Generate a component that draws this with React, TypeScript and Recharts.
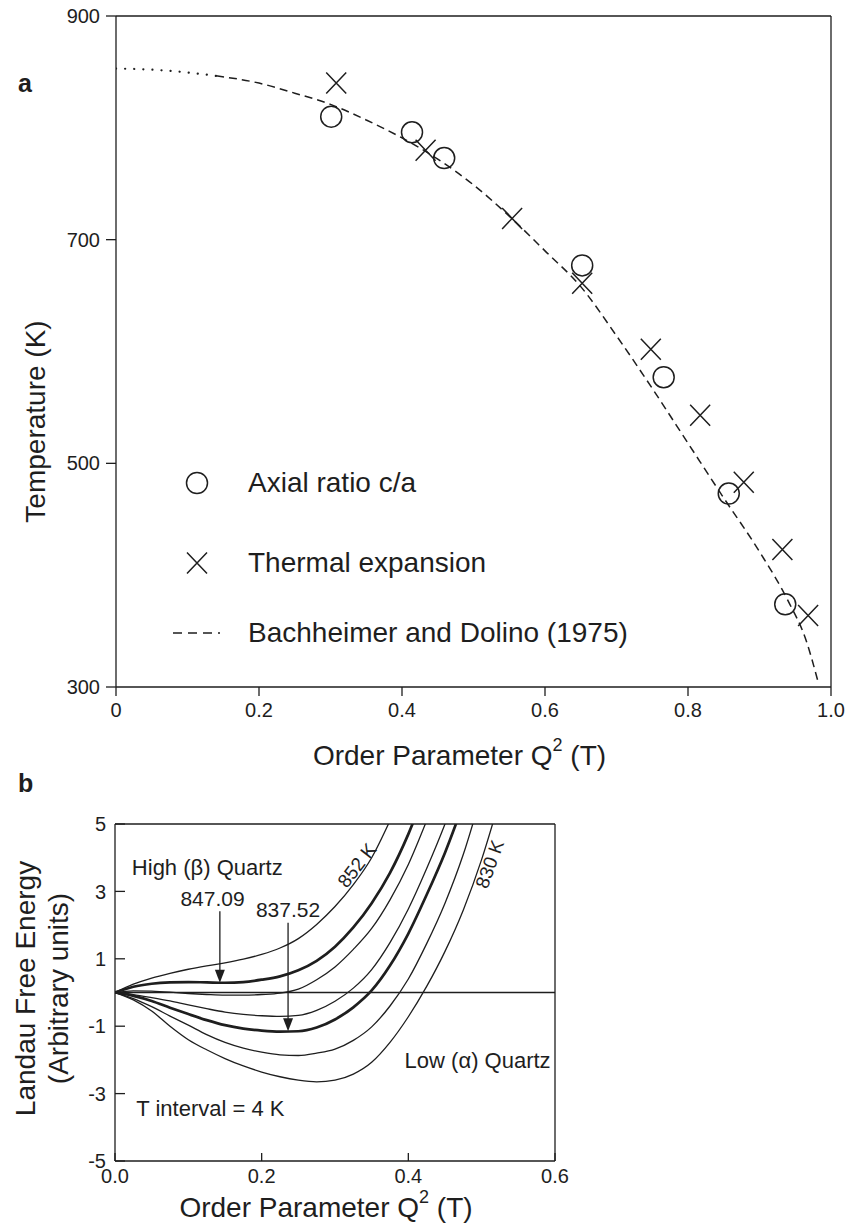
import React from 'react';
import {
  ComposedChart,
  Line,
  Scatter,
  XAxis,
  YAxis,
  Legend,
  ReferenceLine,
  ReferenceDot,
} from 'recharts';

const FONT = "'Liberation Sans', Arial, Helvetica, sans-serif";
const INK = '#1e1e1e';

// ---- panel a: temperature vs order parameter ----
const axialQ = [0.301, 0.414, 0.459, 0.652, 0.766, 0.857, 0.936];
const axialT = [810, 796, 773, 677, 577, 473, 374];

const thermalQ = [0.308, 0.433, 0.554, 0.652, 0.748, 0.817, 0.878, 0.932, 0.968];
const thermalT = [840, 780, 719, 661, 602, 543, 483, 423, 364];

// Bachheimer & Dolino (1975), dotted part = extrapolation
const bdDottedQ = [0, 0.05, 0.1, 0.14];
const bdDottedT = [853, 852, 849.5, 846.5];
const bdDashedQ = [0.14, 0.2, 0.25, 0.3, 0.35, 0.4, 0.45, 0.5, 0.55, 0.6, 0.65, 0.7, 0.75, 0.8, 0.85, 0.9, 0.94, 0.965, 0.983];
const bdDashedT = [846.5, 840, 831, 821, 807, 791, 772, 749, 721, 690, 658, 614, 567, 518, 469, 421, 377, 342, 302];

const xTicksA = [0, 0.2, 0.4, 0.6, 0.8, 1.0];
const yTicksA = [300, 500, 700, 900];

// ---- panel b: Landau free energy curves ----
const gridQ = [0, 0.025, 0.05, 0.075, 0.1, 0.125, 0.15, 0.175, 0.2, 0.225, 0.25, 0.275, 0.3, 0.325, 0.35, 0.375, 0.4, 0.425, 0.45, 0.475, 0.5, 0.525];

const f852 = [0, 0.25, 0.43, 0.57, 0.69, 0.79, 0.88, 0.99, 1.13, 1.32, 1.6, 2.02, 2.55, 3.2, 4.0, 5.1];
const f847 = [0, 0.17, 0.26, 0.3, 0.31, 0.3, 0.29, 0.31, 0.38, 0.48, 0.66, 0.94, 1.36, 1.93, 2.65, 3.55, 4.7, 6.1];
const f844 = [0, 0.05, 0.04, 0.01, -0.03, -0.06, -0.08, -0.08, -0.06, -0.02, 0.1, 0.38, 0.76, 1.28, 1.9, 2.75, 3.8, 5.1];
const f840 = [0, -0.06, -0.15, -0.25, -0.37, -0.48, -0.58, -0.65, -0.69, -0.71, -0.68, -0.53, -0.26, 0.13, 0.68, 1.48, 2.48, 3.68, 5.0, 6.5];
const f837 = [0, -0.1, -0.25, -0.45, -0.64, -0.82, -0.97, -1.07, -1.13, -1.16, -1.15, -1.04, -0.8, -0.44, 0.06, 0.8, 1.75, 2.9, 4.15, 5.6];
const f834 = [0, -0.18, -0.42, -0.7, -0.97, -1.25, -1.48, -1.65, -1.77, -1.85, -1.87, -1.8, -1.68, -1.42, -1.02, -0.4, 0.4, 1.45, 2.65, 4.1, 5.9];
const f830 = [0, -0.22, -0.55, -1.0, -1.4, -1.7, -1.96, -2.18, -2.36, -2.5, -2.6, -2.65, -2.6, -2.42, -2.07, -1.48, -0.72, 0.18, 1.22, 2.45, 3.95, 5.75];

const curvesB = [
  { key: '852', values: f852, thick: false },
  { key: '847.09', values: f847, thick: true },
  { key: '844', values: f844, thick: false },
  { key: '840', values: f840, thick: false },
  { key: '837.52', values: f837, thick: true },
  { key: '834', values: f834, thick: false },
  { key: '830', values: f830, thick: false },
];

const xTicksB = [0, 0.2, 0.4, 0.6];
const yTicksB = [5, 3, 1, -1, -3, -5];

const zip = (xs: number[], ys: number[], key: string) =>
  ys.map((y, i) => ({ q: xs[i], [key]: y }));

const axialData = zip(axialQ, axialT, 't');
const thermalData = zip(thermalQ, thermalT, 't');
const bdDotted = zip(bdDottedQ, bdDottedT, 't');
const bdDashed = zip(bdDashedQ, bdDashedT, 't');

const notesB = [
  { text: 'High (\u03b2) Quartz', q: 0.023, f: 3.7, anchor: 'start', size: 22, rotate: 0 },
  { text: '847.09', q: 0.133, f: 2.78, anchor: 'middle', size: 21, rotate: 0 },
  { text: '837.52', q: 0.236, f: 2.46, anchor: 'middle', size: 21, rotate: 0 },
  { text: '852 K', q: 0.33, f: 3.77, anchor: 'middle', size: 19, rotate: -52 },
  { text: '830 K', q: 0.511, f: 3.81, anchor: 'middle', size: 19, rotate: -70 },
  { text: 'Low (\u03b1) Quartz', q: 0.594, f: -2.03, anchor: 'end', size: 22, rotate: 0 },
  { text: 'T interval = 4 K', q: 0.029, f: -3.43, anchor: 'start', size: 22, rotate: 0 },
];

const arrowsB = [
  { q: 0.143, from: 2.41, to: 0.29 },
  { q: 0.236, from: 2.07, to: -1.15 },
];

const legendRows = [
  { name: 'Axial ratio c/a', mark: 'circle' },
  { name: 'Thermal expansion', mark: 'cross' },
  { name: 'Bachheimer and Dolino (1975)', mark: 'dash' },
];

const tickStyle = { fill: INK, fontSize: 20, fontFamily: FONT };
const lineStyle = { stroke: INK, strokeWidth: 1.3 };

const circleShape = (p: any) => (
  <circle cx={p.cx} cy={p.cy} r={10.5} fill="none" stroke={INK} strokeWidth={1.5} />
);

const crossShape = (p: any) => (
  <path
    d={`M${p.cx - 10},${p.cy - 10.5}L${p.cx + 10},${p.cy + 10.5}M${p.cx + 10},${p.cy - 10.5}L${p.cx - 10},${p.cy + 10.5}`}
    stroke={INK}
    strokeWidth={1.5}
    fill="none"
  />
);

const LegendA = () => (
  <div style={{ fontFamily: FONT, color: INK }}>
    {legendRows.map((r, i) => (
      <div
        key={r.name}
        style={{ display: 'flex', alignItems: 'center', height: 40, marginBottom: i === 0 ? 40 : i === 1 ? 30 : 0 }}
      >
        <svg width={60} height={40}>
          {r.mark === 'circle' && <circle cx={37} cy={20} r={10.5} fill="none" stroke={INK} strokeWidth={1.5} />}
          {r.mark === 'cross' && (
            <path d="M27,9.5L47,30.5M47,9.5L27,30.5" stroke={INK} strokeWidth={1.5} fill="none" />
          )}
          {r.mark === 'dash' && (
            <line x1={13} y1={20} x2={67} y2={20} stroke={INK} strokeWidth={1.5} strokeDasharray="9 6" />
          )}
        </svg>
        <span style={{ fontSize: 28, marginLeft: 28, whiteSpace: 'nowrap' }}>{r.name}</span>
      </div>
    ))}
  </div>
);

const qTitle = (dx: number, dy: number) => (p: any) => {
  const vb = p.viewBox;
  return (
    <text
      x={vb.x + vb.width / 2 + dx}
      y={vb.y + dy}
      textAnchor="middle"
      dominantBaseline="central"
      fontSize={28}
      fontFamily={FONT}
      fill={INK}
      style={{ whiteSpace: 'pre' }}
    >
      Order Parameter Q
      <tspan dy={-10} fontSize={18}>2</tspan>
      <tspan dy={10}> (T)</tspan>
    </text>
  );
};

const tempTitle = (p: any) => {
  const vb = p.viewBox;
  const x = vb.x - 21;
  const y = vb.y + vb.height / 2 + 70;
  return (
    <text x={x} y={y} transform={`rotate(-90 ${x} ${y})`} textAnchor="middle" dominantBaseline="central"
      fontSize={28} fontFamily={FONT} fill={INK}>
      Temperature (K)
    </text>
  );
};

const energyTitle = (p: any) => {
  const vb = p.viewBox;
  const y = vb.y + vb.height / 2 - 4;
  const x1 = vb.x - 30;
  const x2 = vb.x + 3;
  return (
    <g fontSize={28} fontFamily={FONT} fill={INK}>
      <text x={x1} y={y} transform={`rotate(-90 ${x1} ${y})`} textAnchor="middle" dominantBaseline="central">
        Landau Free Energy
      </text>
      <text x={x2} y={y} transform={`rotate(-90 ${x2} ${y})`} textAnchor="middle" dominantBaseline="central">
        (Arbitrary units)
      </text>
    </g>
  );
};

const arrowShape = (p: any) => {
  const top = p.y1 < p.y2 ? { x: p.x1, y: p.y1 } : { x: p.x2, y: p.y2 };
  const tip = p.y1 < p.y2 ? { x: p.x2, y: p.y2 } : { x: p.x1, y: p.y1 };
  return (
    <g>
      <line x1={top.x} y1={top.y} x2={tip.x} y2={tip.y - 8} stroke={INK} strokeWidth={1.3} />
      <path d={`M${tip.x - 5},${tip.y - 13}L${tip.x + 5},${tip.y - 13}L${tip.x},${tip.y}Z`} fill={INK} />
    </g>
  );
};

const noteShape = (n: any) => (p: any) => (
  <text
    x={p.cx}
    y={p.cy}
    textAnchor={n.anchor}
    dominantBaseline="central"
    fontSize={n.size}
    fontFamily={FONT}
    fill={INK}
    transform={n.rotate ? `rotate(${n.rotate} ${p.cx} ${p.cy})` : undefined}
  >
    {n.text}
  </text>
);

export default function App() {
  return (
    <div style={{ position: 'absolute', left: 0, top: 0, width: 850, height: 1227, background: '#fff' }}>
      <div style={{ position: 'absolute', left: 0, top: 0 }}>
        <ComposedChart width={850} height={800} margin={{ top: 15, right: 18, bottom: 73, left: 56 }}>
          <XAxis
            xAxisId="b"
            dataKey="q"
            type="number"
            domain={[0, 1]}
            ticks={xTicksA}
            tickFormatter={(v: number) => (v === 0 ? '0' : v.toFixed(1))}
            height={40}
            tickSize={9}
            tickMargin={7}
            interval={0}
            axisLine={lineStyle}
            tickLine={lineStyle}
            tick={tickStyle}
            allowDataOverflow
            label={qTitle(-14, 68)}
          />
          <XAxis
            xAxisId="top"
            orientation="top"
            type="number"
            domain={[0, 1]}
            ticks={[0.2, 0.4, 0.6, 0.8]}
            height={1}
            tickSize={-11}
            tick={false}
            axisLine={lineStyle}
            tickLine={lineStyle}
            allowDataOverflow
          />
          <YAxis
            yAxisId="l"
            dataKey="t"
            type="number"
            domain={[300, 900]}
            ticks={yTicksA}
            width={60}
            tickSize={10}
            tickMargin={6}
            interval={0}
            axisLine={lineStyle}
            tickLine={lineStyle}
            tick={tickStyle}
            allowDataOverflow
            label={tempTitle}
          />
          <YAxis
            yAxisId="r"
            orientation="right"
            type="number"
            domain={[300, 900]}
            ticks={[500, 700]}
            width={1}
            tickSize={-10}
            tick={false}
            axisLine={lineStyle}
            tickLine={lineStyle}
            allowDataOverflow
          />
          <Line
            xAxisId="b"
            yAxisId="l"
            data={bdDotted}
            dataKey="t"
            type="monotone"
            stroke={INK}
            strokeWidth={2.2}
            strokeDasharray="0.1 9"
            strokeLinecap="round"
            dot={false}
            legendType="none"
            isAnimationActive={false}
          />
          <Line
            xAxisId="b"
            yAxisId="l"
            data={bdDashed}
            dataKey="t"
            name="Bachheimer and Dolino (1975)"
            type="monotone"
            stroke={INK}
            strokeWidth={1.5}
            strokeDasharray="8 5"
            dot={false}
            isAnimationActive={false}
          />
          <Scatter
            xAxisId="b"
            yAxisId="l"
            data={axialData}
            name="Axial ratio c/a"
            shape={circleShape}
            isAnimationActive={false}
          />
          <Scatter
            xAxisId="b"
            yAxisId="l"
            data={thermalData}
            name="Thermal expansion"
            shape={crossShape}
            isAnimationActive={false}
          />
          <Legend
            layout="vertical"
            verticalAlign="middle"
            align="center"
            content={LegendA}
            wrapperStyle={{ left: 160, top: 463, width: 520 }}
          />
        </ComposedChart>
      </div>

      <div style={{ position: 'absolute', left: 0, top: 800 }}>
        <ComposedChart width={850} height={427} margin={{ top: 23, right: 294, bottom: 26, left: 55 }}>
          <XAxis
            xAxisId="b"
            dataKey="q"
            type="number"
            domain={[0, 0.6]}
            ticks={xTicksB}
            tickFormatter={(v: number) => v.toFixed(1)}
            height={40}
            tickSize={-8}
            tickMargin={16}
            interval={0}
            axisLine={lineStyle}
            tickLine={lineStyle}
            tick={tickStyle}
            allowDataOverflow
            label={qTitle(-9, 46)}
          />
          <XAxis
            xAxisId="top"
            orientation="top"
            type="number"
            domain={[0, 0.6]}
            ticks={[0.2, 0.4]}
            height={1}
            tickSize={-8}
            tick={false}
            axisLine={lineStyle}
            tickLine={lineStyle}
            allowDataOverflow
          />
          <YAxis
            yAxisId="l"
            type="number"
            domain={[-5, 5]}
            ticks={yTicksB}
            width={60}
            tickSize={-10}
            tickMargin={19}
            interval={0}
            axisLine={lineStyle}
            tickLine={lineStyle}
            tick={tickStyle}
            allowDataOverflow
            label={energyTitle}
          />
          <YAxis
            yAxisId="r"
            orientation="right"
            type="number"
            domain={[-5, 5]}
            ticks={[3, 1, -1, -3]}
            width={1}
            tickSize={-10}
            tick={false}
            axisLine={lineStyle}
            tickLine={lineStyle}
            allowDataOverflow
          />
          <ReferenceLine xAxisId="b" yAxisId="l" y={0} stroke={INK} strokeWidth={1.3} />
          {curvesB.map((c) => (
            <Line
              key={c.key}
              xAxisId="b"
              yAxisId="l"
              data={zip(gridQ, c.values, 'f')}
              dataKey="f"
              name={c.key}
              type="monotone"
              stroke={INK}
              strokeWidth={c.thick ? 2.7 : 1.3}
              dot={false}
              isAnimationActive={false}
            />
          ))}
          {arrowsB.map((a) => (
            <ReferenceLine
              key={a.q}
              xAxisId="b"
              yAxisId="l"
              segment={[{ x: a.q, y: a.from }, { x: a.q, y: a.to }]}
              shape={arrowShape}
            />
          ))}
          {notesB.map((n) => (
            <ReferenceDot key={n.text} xAxisId="b" yAxisId="l" x={n.q} y={n.f} r={1} shape={noteShape(n)} />
          ))}
        </ComposedChart>
      </div>

      <svg width={850} height={1227} style={{ position: 'absolute', left: 0, top: 0, pointerEvents: 'none' }}>
        <text x={18} y={92} fontSize={25} fontWeight="bold" fontFamily={FONT} fill={INK}>a</text>
        <text x={18} y={792} fontSize={25} fontWeight="bold" fontFamily={FONT} fill={INK}>b</text>
      </svg>
    </div>
  );
}
